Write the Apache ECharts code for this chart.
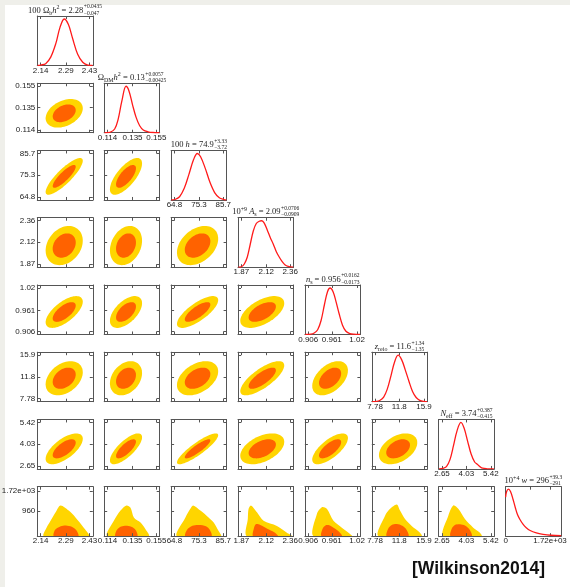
<!DOCTYPE html>
<html>
<head>
<meta charset="utf-8">
<script src="https://cdn.jsdelivr.net/npm/echarts@6/dist/echarts.min.js"></script>
<style>
html, body { margin: 0; padding: 0; background: #fff; }
#chart { width: 570px; height: 587px; }
</style>
</head>
<body>
<div id="chart"></div>
<script>
// parameter order: 100 Ωb h², ΩDM h², 100 h, 10^9 As, ns, z_reio, Neff, 10^4 w
var tickValues = [
  [2.14, 2.29, 2.43], [0.114, 0.135, 0.155], [64.8, 75.3, 85.7], [1.87, 2.12, 2.36],
  [0.906, 0.961, 1.02], [7.78, 11.8, 15.9], [2.65, 4.03, 5.42], [0, 960, 1720]
];
var tickLabels = [
  ['2.14', '2.29', '2.43'], ['0.114', '0.135', '0.155'], ['64.8', '75.3', '85.7'], ['1.87', '2.12', '2.36'],
  ['0.906', '0.961', '1.02'], ['7.78', '11.8', '15.9'], ['2.65', '4.03', '5.42'], ['0', '960', '1.72e+03']
];
// title pieces: r roman, i italic, sb subscript, sp superscript
var titleParts = [
  [['100 Ω', 'r'], ['b', 'sb'], ['h', 'i'], ['2', 'sp'], [' = 2.28', 'r']],
  [['Ω', 'r'], ['DM', 'sb'], ['h', 'i'], ['2', 'sp'], [' = 0.13', 'r']],
  [['100 ', 'r'], ['h', 'i'], [' = 74.9', 'r']],
  [['10', 'r'], ['+9', 'sp'], [' ', 'r'], ['A', 'i'], ['s', 'sb'], [' = 2.09', 'r']],
  [['n', 'i'], ['s', 'sb'], [' = 0.956', 'r']],
  [['z', 'i'], ['reio', 'sb'], [' = 11.6', 'r']],
  [['N', 'i'], ['eff', 'sb'], [' = 3.74', 'r']],
  [['10', 'r'], ['+4', 'sp'], [' ', 'r'], ['w', 'i'], [' = 296', 'r']]
];
var titleErrors = [
  ['+0.0435', '−0.047'], ['+0.0057', '−0.00425'], ['+3.33', '−3.72'], ['+0.0706', '−0.0909'],
  ['+0.0162', '−0.0173'], ['+1.34', '−1.35'], ['+0.387', '−0.415'], ['+39.3', '−291']
];

// 1D marginals (relative density)
var curveOmegaB = [[2.122, 0], [2.14, 0.01], [2.17, 0.04], [2.20, 0.18], [2.23, 0.47], [2.255, 0.82], [2.28, 1.0], [2.305, 0.88], [2.33, 0.58], [2.36, 0.24], [2.39, 0.07], [2.42, 0.01], [2.448, 0]];
var curveOmegaDM = [[0.1115, 0], [0.116, 0.01], [0.120, 0.08], [0.123, 0.3], [0.126, 0.68], [0.1295, 1.0], [0.132, 0.9], [0.135, 0.6], [0.138, 0.33], [0.141, 0.15], [0.144, 0.06], [0.148, 0.02], [0.152, 0.005], [0.1576, 0]];
var curveH = [[63.5, 0], [65, 0.01], [67, 0.07], [69, 0.25], [71, 0.55], [73, 0.87], [74.6, 1.0], [76, 0.93], [78, 0.68], [80, 0.38], [82, 0.16], [84, 0.05], [86, 0.01], [87, 0]];
var curveAs = [[1.84, 0], [1.87, 0.01], [1.90, 0.07], [1.93, 0.22], [1.96, 0.5], [1.99, 0.78], [2.02, 0.94], [2.05, 0.99], [2.075, 1.0], [2.10, 0.95], [2.13, 0.8], [2.16, 0.64], [2.19, 0.5], [2.22, 0.34], [2.25, 0.22], [2.28, 0.12], [2.31, 0.05], [2.34, 0.02], [2.39, 0]];
var curveNs = [[0.899, 0], [0.912, 0.005], [0.92, 0.03], [0.928, 0.1], [0.936, 0.3], [0.944, 0.65], [0.951, 0.92], [0.957, 1.0], [0.964, 0.92], [0.971, 0.7], [0.978, 0.45], [0.986, 0.2], [0.994, 0.07], [1.003, 0.02], [1.012, 0.005], [1.027, 0]];
var curveZreio = [[7.28, 0], [8.0, 0.005], [8.6, 0.03], [9.2, 0.1], [9.8, 0.27], [10.4, 0.55], [11.0, 0.85], [11.6, 1.0], [12.2, 0.9], [12.8, 0.68], [13.4, 0.44], [14.0, 0.22], [14.6, 0.09], [15.2, 0.03], [15.9, 0.005], [16.4, 0]];
var curveNeff = [[2.48, 0], [2.7, 0.01], [2.9, 0.05], [3.1, 0.2], [3.3, 0.5], [3.5, 0.82], [3.72, 1.0], [3.9, 0.88], [4.1, 0.6], [4.3, 0.32], [4.5, 0.15], [4.65, 0.1], [4.8, 0.05], [4.95, 0.015], [5.2, 0.003], [5.59, 0]];
var curveW = [[0, 0.83], [40, 0.95], [110, 1.0], [190, 0.95], [290, 0.78], [380, 0.6], [460, 0.46], [550, 0.36], [680, 0.25], [800, 0.18], [950, 0.12], [1190, 0.07], [1450, 0.04], [1750, 0.02], [2150, 0.01]];
var curves = [curveOmegaB, curveOmegaDM, curveH, curveAs, curveNs, curveZreio, curveNeff, curveW];

// 2D contours (params 1-7): centre, spread, correlation
var centers = [2.28, 0.1295, 74.7, 2.08, 0.957, 11.6, 3.74];
var sigmas = [0.045, 0.0055, 3.6, 0.09, 0.017, 1.3, 0.4];
var corrRows = [
  [],
  [0.35],
  [0.85, 0.7],
  [0.25, 0.25, 0.35],
  [0.65, 0.55, 0.75, 0.55],
  [0.35, 0.3, 0.4, 0.75, 0.45],
  [0.65, 0.75, 0.88, 0.45, 0.7, 0.4]
];
var levels = [2.45, 1.52]; // 95%, 68%

// w row: upper outline of the 95% / 68% regions, [x, w]
var wOuter = [
  [[2.159, 0], [2.175, 320], [2.199, 584], [2.229, 908], [2.258, 1168], [2.307, 973], [2.347, 713], [2.396, 323], [2.426, 0]],
  [[0.1138, 0], [0.1193, 584], [0.1249, 973], [0.1299, 1168], [0.1333, 1077], [0.1361, 713], [0.1417, 518], [0.1459, 260], [0.1486, 0]],
  [[65.9, 0], [69.5, 713], [71.6, 1038], [72.8, 1168], [75.9, 973], [79.4, 713], [81.6, 518], [83.7, 195], [84.7, 0]],
  [[1.927, 0], [1.935, 658], [1.943, 1038], [1.967, 1168], [2.027, 908], [2.093, 584], [2.227, 389], [2.327, 130], [2.377, 0]],
  [[0.9184, 0], [0.9262, 844], [0.9379, 1102], [0.9495, 1038], [0.9649, 584], [0.9845, 324], [1.0, 130], [1.0078, 0]],
  [[8.33, 0], [9.43, 778], [10.26, 1038], [11.38, 1206], [11.92, 973], [12.75, 649], [13.86, 389], [15.24, 130], [15.52, 0]],
  [[2.72, 0], [3.005, 778], [3.288, 1168], [3.571, 1038], [3.95, 649], [4.42, 324], [4.80, 130], [4.895, 0]]
];
var wInner = [
  [[2.219, 0], [2.226, 244], [2.26, 376], [2.29, 404], [2.325, 357], [2.352, 226], [2.363, 0]],
  [[0.1207, 0], [0.1218, 235], [0.1255, 367], [0.1305, 395], [0.135, 338], [0.138, 207], [0.1389, 0]],
  [[69.5, 0], [70.2, 244], [72.5, 395], [75.3, 423], [78.3, 376], [80.0, 235], [80.6, 0]],
  [[1.99, 0], [1.995, 282], [2.015, 451], [2.06, 423], [2.13, 282], [2.2, 150], [2.237, 0]],
  [[0.937, 0], [0.939, 263], [0.946, 404], [0.955, 414], [0.966, 310], [0.978, 169], [0.9845, 0]],
  [[9.72, 0], [9.95, 282], [10.6, 432], [11.4, 461], [12.3, 395], [13.0, 244], [13.3, 0]],
  [[3.14, 0], [3.2, 282], [3.4, 432], [3.67, 456], [3.95, 404], [4.2, 263], [4.33, 0]]
];

// layout
var X0 = 37.3, DX = 66.9, PW = 55.5;
var Y0 = 16, DY = 67.24, PH = 49.5;
var PAD = 0.06;
var W_MAX_X = 2150, W_MAX_Y = 1880;
var FRAME = '#555';
var YELLOW = '#ffd500', ORANGE = '#ff6200';
var SERIF = '"Liberation Serif", "DejaVu Serif", serif';

function axisRange(p, isY) {
  if (p === 7) return [0, isY ? W_MAX_Y : W_MAX_X];
  var t = tickValues[p], span = (t[2] - t[0]) / (1 - 2 * PAD);
  return [t[0] - PAD * span, t[2] + PAD * span];
}
function labelText(p, v) {
  var t = tickValues[p];
  for (var i = 0; i < t.length; i++) {
    if (Math.abs(t[i] - v) < 1e-7 * Math.max(1, Math.abs(v))) return tickLabels[p][i];
  }
  return '';
}
function makeAxis(gi, pos, rng, p, ticks, labels, isY) {
  var a = {
    gridIndex: gi, type: 'value', position: pos, min: rng[0], max: rng[1], z: 5,
    axisLine: { show: true, onZero: false, lineStyle: { color: FRAME, width: 1 } },
    axisTick: { show: !!ticks, inside: true, length: 3, lineStyle: { color: FRAME, width: 1 } },
    axisLabel: {
      show: !!labels, fontSize: 8, fontFamily: 'Liberation Sans', color: '#222',
      margin: isY ? 2 : 1, hideOverlap: false, showMinLabel: true, showMaxLabel: true,
      formatter: function (v) { return labelText(p, v); }
    },
    splitLine: { show: false }
  };
  if (ticks) a.axisTick.customValues = ticks;
  if (labels) a.axisLabel.customValues = labels;
  return a;
}
function corrOf(i, j) { return i > j ? corrRows[i][j] : corrRows[j][i]; }
function ellipse(i, j, k) {
  var rho = corrOf(i, j), q = Math.sqrt(1 - rho * rho), pts = [];
  for (var a = 0; a < 72; a++) {
    var t = a / 72 * 2 * Math.PI, u = Math.cos(t), v = Math.sin(t);
    pts.push([centers[i] + k * sigmas[i] * u, centers[j] + k * sigmas[j] * (rho * u + q * v)]);
  }
  return pts;
}
function polySeries(xi, yi, pts, fill, smooth) {
  return {
    type: 'custom', xAxisIndex: xi, yAxisIndex: yi, clip: true, silent: true, z: 2,
    data: [pts[0]],
    renderItem: function (params, api) {
      var shape = { points: pts.map(function (q) { return api.coord(q); }) };
      if (smooth) shape.smooth = smooth;
      return { type: 'polygon', shape: shape, style: { fill: fill } };
    }
  };
}

var grids = [], xAxes = [], yAxes = [], lineSeries = [], areaSeries = [], graphics = [];

graphics.push({ type: 'rect', shape: { x: 0, y: 0, width: 570, height: 5 }, style: { fill: '#efefea' }, silent: true });
graphics.push({ type: 'rect', shape: { x: 0, y: 0, width: 5, height: 587 }, style: { fill: '#efefea' }, silent: true });

for (var row = 0; row < 8; row++) {
  for (var col = 0; col <= row; col++) {
    var gi = grids.length;
    grids.push({ left: X0 + DX * col, top: Y0 + DY * row, width: PW, height: PH, outerBoundsMode: 'none' });
    var xr = axisRange(col, false);
    var xi = xAxes.length, yi = yAxes.length;
    var showX = (row === 7 || row === col);
    xAxes.push(makeAxis(gi, 'bottom', xr, col, tickValues[col], showX ? tickValues[col] : null, false));
    xAxes.push(makeAxis(gi, 'top', xr, col, tickValues[col], null, false));
    if (row === col) {
      var ymax = col === 7 ? 1.053 : 1.065;
      yAxes.push(makeAxis(gi, 'left', [0, ymax], col, null, null, true));
      yAxes.push(makeAxis(gi, 'right', [0, ymax], col, null, null, true));
      lineSeries.push({
        type: 'line', xAxisIndex: xi, yAxisIndex: yi, data: curves[col], smooth: 0.35,
        symbol: 'none', silent: true, clip: true, z: 6,
        lineStyle: { color: '#ff1a1a', width: 1.3 }
      });
    } else {
      var yr = axisRange(row, true);
      var yLabels = null;
      if (col === 0) yLabels = row === 7 ? tickValues[row].slice(1) : tickValues[row];
      yAxes.push(makeAxis(gi, 'left', yr, row, tickValues[row], yLabels, true));
      yAxes.push(makeAxis(gi, 'right', yr, row, tickValues[row], null, true));
      if (row === 7) {
        areaSeries.push(polySeries(xi, yi, wOuter[col], YELLOW, 0.3));
        areaSeries.push(polySeries(xi, yi, wInner[col], ORANGE, 0.3));
      } else {
        areaSeries.push(polySeries(xi, yi, ellipse(col, row, levels[0]), YELLOW, 0));
        areaSeries.push(polySeries(xi, yi, ellipse(col, row, levels[1]), ORANGE, 0));
      }
    }
  }
}

// titles above the diagonal panels
var measureCtx = document.createElement('canvas').getContext('2d');
function textWidth(s, font) { measureCtx.font = font; return measureCtx.measureText(s).width; }
var segFont = { r: '8.5px ' + SERIF, i: 'italic 8.5px ' + SERIF, sb: '6px ' + SERIF, sp: '6px ' + SERIF };
var segDy = { r: 0, i: 0, sb: 2.5, sp: -3 };
var errFont = '5.5px ' + SERIF;
titleParts.forEach(function (parts, d) {
  var err = titleErrors[d];
  var widths = parts.map(function (s) { return textWidth(s[0], segFont[s[1]]); });
  var ew = Math.max(textWidth(err[0], errFont), textWidth(err[1], errFont));
  var total = widths.reduce(function (a, b) { return a + b; }, 0) + ew + 0.5;
  var tx = X0 + DX * d + PW / 2 - total / 2;
  var ty = Y0 + DY * d - 5.5;
  parts.forEach(function (s, k) {
    graphics.push({
      type: 'text', x: tx, y: ty + segDy[s[1]], silent: true,
      style: { text: s[0], font: segFont[s[1]], fill: '#222', verticalAlign: 'middle', align: 'left' }
    });
    tx += widths[k];
  });
  graphics.push({ type: 'text', x: tx + 0.5, y: ty - 3.5, silent: true,
    style: { text: err[0], font: errFont, fill: '#222', verticalAlign: 'middle', align: 'left' } });
  graphics.push({ type: 'text', x: tx + 0.5, y: ty + 2.8, silent: true,
    style: { text: err[1], font: errFont, fill: '#222', verticalAlign: 'middle', align: 'left' } });
});

graphics.push({
  type: 'text', x: 412, y: 569, silent: true,
  style: { text: '[Wilkinson2014]', font: 'bold 17.5px "Liberation Sans"', fill: '#111', verticalAlign: 'middle', align: 'left' }
});

var chart = echarts.init(document.getElementById('chart'));
chart.setOption({
  backgroundColor: '#fff',
  animation: false,
  grid: grids,
  xAxis: xAxes,
  yAxis: yAxes,
  series: lineSeries.concat(areaSeries),
  graphic: graphics
});
</script>
</body>
</html>
